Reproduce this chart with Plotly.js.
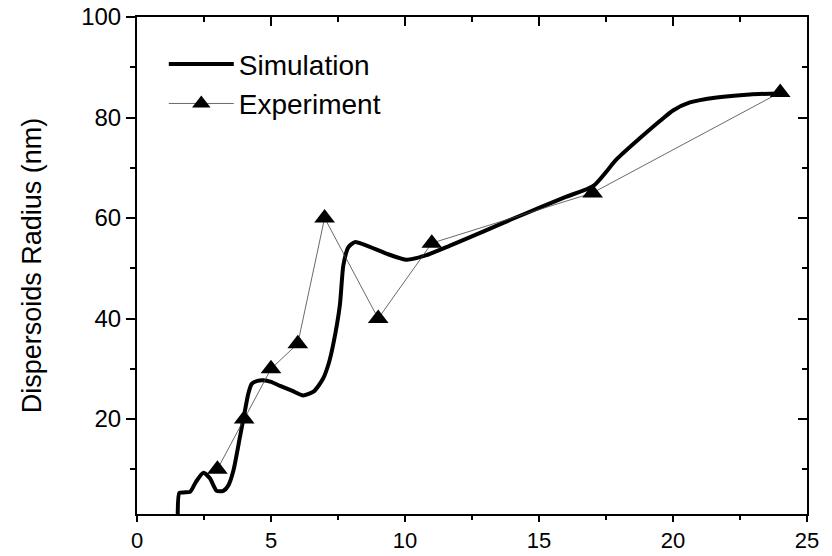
<!DOCTYPE html>
<html>
<head>
<meta charset="utf-8">
<script src="https://cdn.plot.ly/plotly-3.0.1.min.js"></script>
<style>html,body{margin:0;padding:0;background:#fff;}#chart{width:832px;height:556px;}</style>
</head>
<body>
<div id="chart"></div>
<script>
// Simulation curve
const simX = [1.52, 1.58, 1.75, 1.98, 2.2, 2.48, 2.72, 2.97, 3.22, 3.41, 3.6, 3.84, 4.03, 4.15, 4.28, 4.5, 4.7, 5.0, 5.34, 5.8, 6.2, 6.6, 6.94, 7.15, 7.32, 7.57, 7.7, 7.89, 8.13, 8.57, 9.31, 10.06, 10.8, 11.68, 13.0, 14.0, 15.0, 16.0, 17.03, 17.9, 18.77, 19.51, 20.0, 20.63, 21.63, 22.87, 23.99];
const simY = [0, 5.3, 5.4, 5.5, 7.5, 9.3, 8.2, 5.7, 5.7, 6.8, 9.8, 16.4, 21.7, 25.0, 27.0, 27.6, 27.7, 27.4, 26.6, 25.6, 24.7, 25.5, 28.0, 31.0, 34.8, 42.7, 50.6, 54.2, 55.2, 54.5, 52.9, 51.7, 52.6, 54.5, 57.5, 59.8, 62.0, 64.2, 66.4, 71.7, 75.9, 79.3, 81.4, 83.0, 84.0, 84.6, 84.8];
// Experiment points
const expX = [3, 4, 5, 6, 7, 9, 11, 17, 24];
const expY = [10, 20, 30, 35, 60, 40, 55, 65, 85];
// Axis ticks
const xTicks = [0, 5, 10, 15, 20, 25];
const yTicks = [20, 40, 60, 80, 100];

const FONT = 'Liberation Sans, Arial, sans-serif';

const traces = [
  {x: simX, y: simY, type: 'scatter', mode: 'lines', name: 'Simulation',
   line: {color: '#000', width: 4, shape: 'spline', smoothing: 0.6}},
  {x: expX, y: expY, type: 'scatter', mode: 'lines+markers', name: 'Experiment',
   line: {color: '#444', width: 0.8},
   marker: {symbol: 'triangle-up', size: 18, color: '#000'}},
  {x: [], y: [], xaxis: 'x2', yaxis: 'y2', type: 'scatter', mode: 'markers', showlegend: false, hoverinfo: 'skip'}
];

const axBase = {
  showgrid: false, zeroline: false, showline: true, linecolor: '#000', linewidth: 2,
  tickcolor: '#000', tickwidth: 2, ticklen: 9,
  tickfont: {family: FONT, size: 24, color: '#000'}
};

const layout = {
  width: 832, height: 556,
  margin: {l: 137, r: 25, t: 17, b: 42},
  paper_bgcolor: '#fff', plot_bgcolor: '#fff',
  showlegend: true,
  legend: {x: 0.04, y: 0.955, xanchor: 'left', yanchor: 'top', bgcolor: 'rgba(0,0,0,0)',
           font: {family: FONT, size: 28, color: '#000'}, itemwidth: 65, tracegroupgap: 0},
  xaxis: Object.assign({}, axBase, {
    range: [0, 25], tickmode: 'array', tickvals: xTicks, ticktext: xTicks.map(String), ticks: 'outside',
    ticklen: 6, tickfont: {family: FONT, size: 22, color: '#000'},
    minor: {dtick: 2.5, tick0: 0, ticklen: 4, tickwidth: 2, tickcolor: '#000', ticks: 'outside'}
  }),
  yaxis: Object.assign({}, axBase, {
    range: [1.1, 100], tickmode: 'array', tickvals: yTicks, ticktext: yTicks.map(String), ticks: 'outside',
    minor: {dtick: 10, tick0: 0, ticklen: 5, tickwidth: 2, tickcolor: '#000', ticks: 'outside'},
    title: {text: 'Dispersoids Radius (nm)', font: {family: FONT, size: 27, color: '#000'}, standoff: 32}
  }),
  xaxis2: Object.assign({}, axBase, {
    overlaying: 'x', side: 'top', anchor: 'y2', range: [0, 25], dtick: 5, tick0: 0, ticks: 'inside',
    showticklabels: false,
    minor: {dtick: 2.5, tick0: 0, ticklen: 5, tickwidth: 2, tickcolor: '#000', ticks: 'inside'}
  }),
  yaxis2: Object.assign({}, axBase, {
    overlaying: 'y', side: 'right', anchor: 'x2', range: [1.1, 100], dtick: 20, tick0: 0, ticks: 'inside',
    showticklabels: false,
    minor: {dtick: 10, tick0: 0, ticklen: 5, tickwidth: 2, tickcolor: '#000', ticks: 'inside'}
  })
};

Plotly.newPlot('chart', traces, layout, {displayModeBar: false, staticPlot: true});
</script>
</body>
</html>
